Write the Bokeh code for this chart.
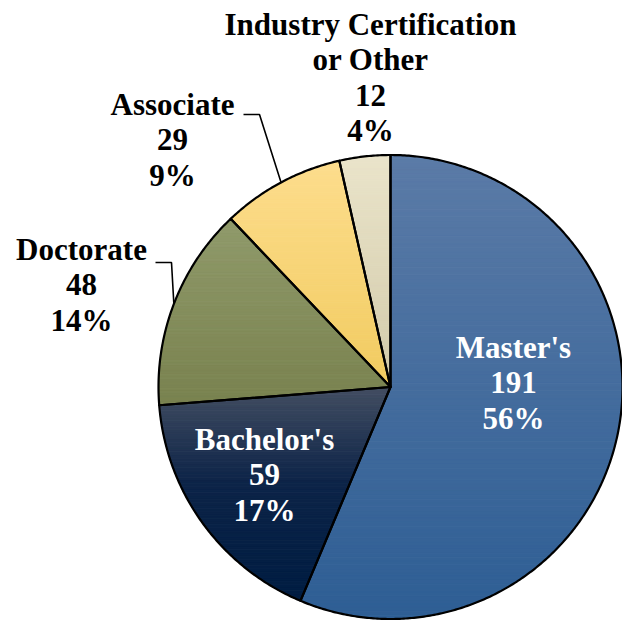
import numpy as np
from bokeh.plotting import figure
from bokeh.models import Range1d, ColumnDataSource
from bokeh.core.properties import value
from bokeh.embed import file_html
from bokeh.resources import INLINE

# ---- data ----
categories = ["Master's", "Bachelor's", "Doctorate", "Associate", "Industry Certification or Other"]
label_lines = [["Master's"], ["Bachelor's"], ["Doctorate"], ["Associate"], ["Industry Certification", "or Other"]]
counts = [191, 59, 48, 29, 12]

# gradient stops per slice (position, colour) top -> bottom
gradients = [
    [(0.0, "#5b7ba7"), (1.0, "#2e5e94")],
    [(0.0, "#434e62"), (0.45, "#0d2448"), (1.0, "#001d42")],
    [(0.0, "#909a6b"), (1.0, "#79824f")],
    [(0.0, "#fddd8d"), (1.0, "#f1cb60")],
    [(0.0, "#eae4ca"), (1.0, "#d2caaa")],
]
text_colors = ["white", "white", "black", "black", "black"]

# ---- layout (page pixel coordinates) ----
CX, CY, R = 390.0, 386.5, 232.0
label_anchor = [(513, 347), (264, 439), (81, 249), (172, 104), (370, 24)]
LINE_STEP = 35.3
leader_elbows = {2: [(155, 262), (171, 262)], 3: [(243, 114), (259, 114)]}

total = float(sum(counts))
fracs = [c / total for c in counts]
cum = np.concatenate([[0.0], np.cumsum(fracs)]) * 360.0


def pt(angle_deg, r=R):
    a = np.radians(angle_deg)
    return CX + r * np.sin(a), CY - r * np.cos(a)


def wedge_poly(a0, a1):
    n = max(4, int((a1 - a0) / 0.5))
    angs = np.linspace(a0, a1, n)
    xs = [CX] + [pt(a)[0] for a in angs]
    ys = [CY] + [pt(a)[1] for a in angs]
    return list(zip(xs, ys))


def clip(poly, yv, keep_above):
    out = []
    n = len(poly)
    inside = (lambda q: q[1] >= yv) if keep_above else (lambda q: q[1] <= yv)
    for i in range(n):
        cur = poly[i]
        prev = poly[i - 1]
        ci, pi = inside(cur), inside(prev)
        if ci:
            if not pi:
                t = (yv - prev[1]) / (cur[1] - prev[1])
                out.append((prev[0] + t * (cur[0] - prev[0]), yv))
            out.append(cur)
        elif pi:
            t = (yv - prev[1]) / (cur[1] - prev[1])
            out.append((prev[0] + t * (cur[0] - prev[0]), yv))
    return out


def hex2rgb(h):
    h = h.lstrip("#")
    return np.array([int(h[i:i + 2], 16) for i in (0, 2, 4)], dtype=float)


def grad_color(stops, t):
    for (p0, c0), (p1, c1) in zip(stops[:-1], stops[1:]):
        if t <= p1:
            u = (t - p0) / (p1 - p0) if p1 > p0 else 0
            c = hex2rgb(c0) * (1 - u) + hex2rgb(c1) * u
            return "#%02x%02x%02x" % tuple(int(round(v)) for v in c)
    return stops[-1][1]


p = figure(width=622, height=620, output_backend="svg", toolbar_location=None,
           x_range=Range1d(0, 622), y_range=Range1d(620, 0),
           x_axis_location=None, y_axis_location=None, min_border=0,
           background_fill_color="white", border_fill_color="white")
p.grid.visible = False
p.outline_line_color = None

band_xs, band_ys, band_cols = [], [], []
out_xs, out_ys = [], []
NB = 120
for i in range(len(counts)):
    poly = wedge_poly(cum[i], cum[i + 1])
    ys_ = [q[1] for q in poly]
    y0, y1 = min(ys_), max(ys_)
    edges = np.linspace(y0, y1, NB + 1)
    for b in range(NB):
        piece = clip(clip(poly, edges[b], True), edges[b + 1], False)
        if len(piece) < 3:
            continue
        band_xs.append([q[0] for q in piece])
        band_ys.append([q[1] for q in piece])
        band_cols.append(grad_color(gradients[i], (b + 0.5) / NB))
    out_xs.append([q[0] for q in poly])
    out_ys.append([q[1] for q in poly])

p.patches(xs=band_xs, ys=band_ys, fill_color=band_cols, line_color=band_cols, line_width=1)
p.patches(xs=out_xs, ys=out_ys, fill_alpha=0, line_color="black", line_width=2.2, line_join="round")

# leader lines
lx, ly = [], []
for i, elbow in leader_elbows.items():
    mid = (cum[i] + cum[i + 1]) / 2
    ex, ey = pt(mid)
    lx.append([e[0] for e in elbow] + [ex])
    ly.append([e[1] for e in elbow] + [ey])
p.multi_line(xs=lx, ys=ly, line_color="black", line_width=1.6)

# labels
tx, ty, tt, tc = [], [], [], []
for i in range(len(counts)):
    lines = label_lines[i] + [str(counts[i]), "%d%%" % round(100 * fracs[i])]
    ax, ay = label_anchor[i]
    for k, s in enumerate(lines):
        tx.append(ax)
        ty.append(ay + k * LINE_STEP)
        tt.append(s)
        tc.append(text_colors[i])
src = ColumnDataSource(dict(x=tx, y=ty, text=tt, color=tc))
p.text(x="x", y="y", text="text", source=src, text_color="color",
       text_font=value("Liberation Serif"), text_font_style="bold",
       text_font_size="31px", text_align="center", text_baseline="alphabetic")

open("out.html", "w").write(file_html(p, INLINE))
